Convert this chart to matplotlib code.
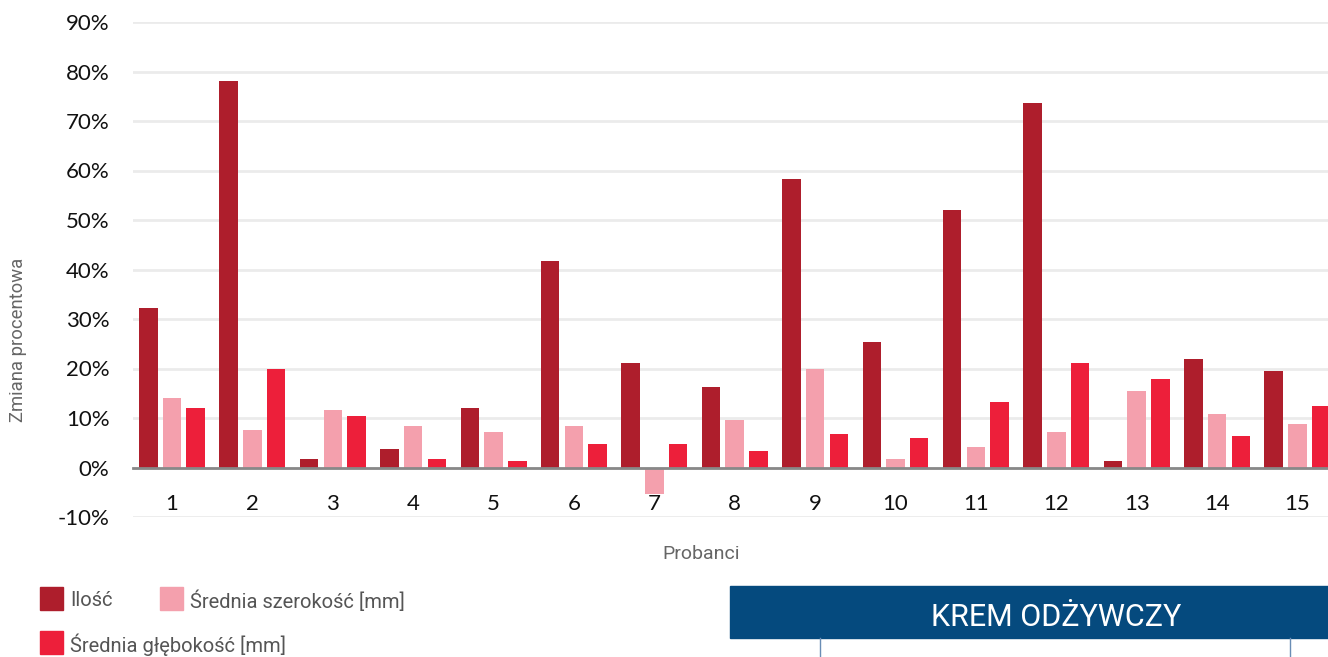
import matplotlib.pyplot as plt
from matplotlib.patches import Rectangle
import numpy as np

probanci = [str(i) for i in range(1, 16)]
ilosc = [32.3, 78.1, 1.7, 3.8, 12.0, 41.8, 21.2, 16.2, 58.3, 25.3, 52.1, 73.6, 1.3, 21.9, 19.5]
szerokosc = [14.1, 7.5, 11.6, 8.4, 7.2, 8.4, -5.3, 9.6, 19.9, 1.7, 4.2, 7.2, 15.4, 10.9, 8.8]
glebokosc = [12.0, 19.9, 10.4, 1.7, 1.3, 4.7, 4.7, 3.4, 6.8, 5.9, 13.3, 21.2, 17.8, 6.3, 12.5]
series_names = ['Ilość', 'Średnia szerokość [mm]', 'Średnia głębokość [mm]']
colors = ['#ae1e2c', '#f4a0ad', '#ed1f3a']
yticks = [-10, 0, 10, 20, 30, 40, 50, 60, 70, 80, 90]

W, H = 1328, 657
fig = plt.figure(figsize=(W / 100, H / 100), dpi=100)
# axes box in pixels: x 133..1328, y 22..517
ax = fig.add_axes([133 / W, 1 - 517 / H, 1 - 133 / W, (517 - 22) / H])

# spine at zero first - set_position resets the ticks
for s in ['top', 'right', 'left']:
    ax.spines[s].set_visible(False)
ax.spines['bottom'].set_position(('data', 0))
ax.spines['bottom'].set_color('#888888')
ax.spines['bottom'].set_linewidth(2)
ax.spines['bottom'].set_zorder(4)

x = np.arange(len(probanci))
width = 0.23
off = 0.295
for i, (vals, c) in enumerate(zip([ilosc, szerokosc, glebokosc], colors)):
    ax.bar(x + (i - 1) * off, vals, width=width, color=c, zorder=3)

ax.set_xlim(-0.485, 14.38)
ax.set_ylim(-10, 90)
ax.set_yticks(yticks)
ax.set_yticklabels([f'{t}%' for t in yticks], fontsize=16, family='Lato', color='#111111')
ax.set_xticks(x)
ax.set_xticklabels(probanci, fontsize=16, family='Lato', color='#111111')
ax.tick_params(axis='both', length=0)
ax.tick_params(axis='y', pad=17)
ax.tick_params(axis='x', pad=19)
ax.grid(axis='y', color='#ebebeb', linewidth=2, zorder=0)

fig.text(18 / W, 1 - 340 / H, 'Zmiana procentowa', rotation=90, ha='center', va='center',
         fontsize=13.3, family='Roboto', color='#666666')
fig.text(701 / W, 1 - 554 / H, 'Probanci', ha='center', va='center',
         fontsize=14, family='Roboto', color='#666666')

# legend
leg_pos = [(40, 587), (160, 587), (40, 631)]
for (px, py), name, c in zip(leg_pos, series_names, colors):
    fig.patches.append(Rectangle((px / W, 1 - (py + 23) / H), 23 / W, 23 / H,
                                 transform=fig.transFigure, color=c))
    fig.text((px + 30) / W, 1 - (py + 14) / H, name, ha='left', va='center',
             fontsize=14.5, family='Roboto', color='#555555')

# banner
fig.patches.append(Rectangle((730 / W, 1 - 638 / H), (W - 730) / W, 52 / H,
                             transform=fig.transFigure, color='#054a7e'))
fig.text(1056 / W, 1 - 617 / H, 'KREM ODŻYWCZY', ha='center', va='center',
         fontsize=22, family='Roboto', color='white')
for lx in [820, 1290]:
    fig.add_artist(plt.Line2D([lx / W, lx / W], [0, 1 - 638 / H], transform=fig.transFigure,
                              color='#6a8db5', linewidth=1))

fig.savefig('out.png', dpi=100)
